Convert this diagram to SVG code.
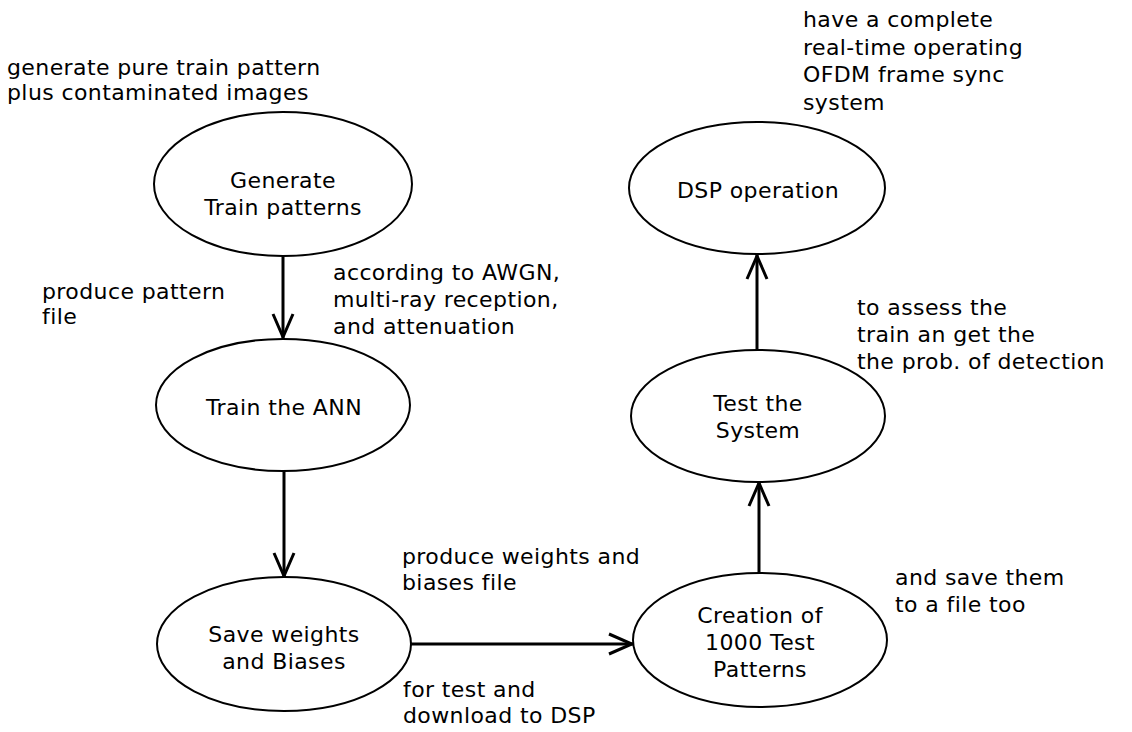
<svg xmlns="http://www.w3.org/2000/svg" width="1132" height="732" viewBox="0 0 1132 732">
<defs>
<style>
.bg{fill:#ffffff}
.node ellipse{fill:#ffffff;stroke:#000000;stroke-width:2}
text{font-family:"DejaVu Sans","Verdana","Liberation Sans",sans-serif;font-size:22px;letter-spacing:0.4px;fill:#000000}
.c{text-anchor:middle}
.edge{stroke:#000000;stroke-width:3;fill:none}
</style>
<marker id="arr" viewBox="-28 -12 30 24" markerWidth="30" markerHeight="24" refX="0" refY="0" markerUnits="userSpaceOnUse" orient="auto">
<path d="M-24,-10 L-1,0 L-24,10" fill="none" stroke="#000000" stroke-width="3" stroke-linejoin="miter"/>
</marker>
</defs>
<rect class="bg" x="0" y="0" width="1132" height="732"/>

<g id="connectors">
<line class="edge" x1="283" y1="257" x2="283" y2="338" marker-end="url(#arr)"/>
<line class="edge" x1="284" y1="471" x2="284" y2="577" marker-end="url(#arr)"/>
<line class="edge" x1="411" y1="644" x2="633" y2="644" marker-end="url(#arr)"/>
<line class="edge" x1="759" y1="573" x2="759" y2="482" marker-end="url(#arr)"/>
<line class="edge" x1="757" y1="350" x2="757" y2="255" marker-end="url(#arr)"/>
</g>

<g id="node-generate" class="node">
<ellipse cx="283" cy="184" rx="129" ry="72"/>
<text class="c" x="283" y="188">Generate</text>
<text class="c" x="283" y="215">Train patterns</text>
</g>

<g id="node-train" class="node">
<ellipse cx="283" cy="405" rx="127" ry="66"/>
<text class="c" x="284" y="415">Train the ANN</text>
</g>

<g id="node-save" class="node">
<ellipse cx="284" cy="644" rx="127" ry="67"/>
<text class="c" x="284" y="642">Save weights</text>
<text class="c" x="284" y="669">and Biases</text>
</g>

<g id="node-creation" class="node">
<ellipse cx="760" cy="640" rx="127" ry="67"/>
<text class="c" x="760" y="623">Creation of</text>
<text class="c" x="760" y="650">1000 Test</text>
<text class="c" x="760" y="677">Patterns</text>
</g>

<g id="node-test" class="node">
<ellipse cx="758" cy="416" rx="127" ry="66"/>
<text class="c" x="758" y="411">Test the</text>
<text class="c" x="758" y="438">System</text>
</g>

<g id="node-dsp" class="node">
<ellipse cx="757" cy="188" rx="128" ry="66"/>
<text class="c" x="758" y="198">DSP operation</text>
</g>

<g id="labels">
<text x="7" y="75">generate pure train pattern</text>
<text x="7" y="100">plus contaminated images</text>
<text x="42" y="299">produce pattern</text>
<text x="42" y="324">file</text>
<text x="333" y="280">according to AWGN,</text>
<text x="333" y="307">multi-ray reception,</text>
<text x="333" y="334">and attenuation</text>
<text x="402" y="564">produce weights and</text>
<text x="402" y="590">biases file</text>
<text x="403" y="697">for test and</text>
<text x="403" y="723">download to DSP</text>
<text x="895" y="585">and save them</text>
<text x="895" y="612">to a file too</text>
<text x="857" y="315">to assess the</text>
<text x="857" y="342">train an get the</text>
<text x="857" y="369">the prob. of detection</text>
<text x="803" y="27">have a complete</text>
<text x="803" y="55">real-time operating</text>
<text x="803" y="82">OFDM frame sync</text>
<text x="803" y="110">system</text>
</g>
</svg>
